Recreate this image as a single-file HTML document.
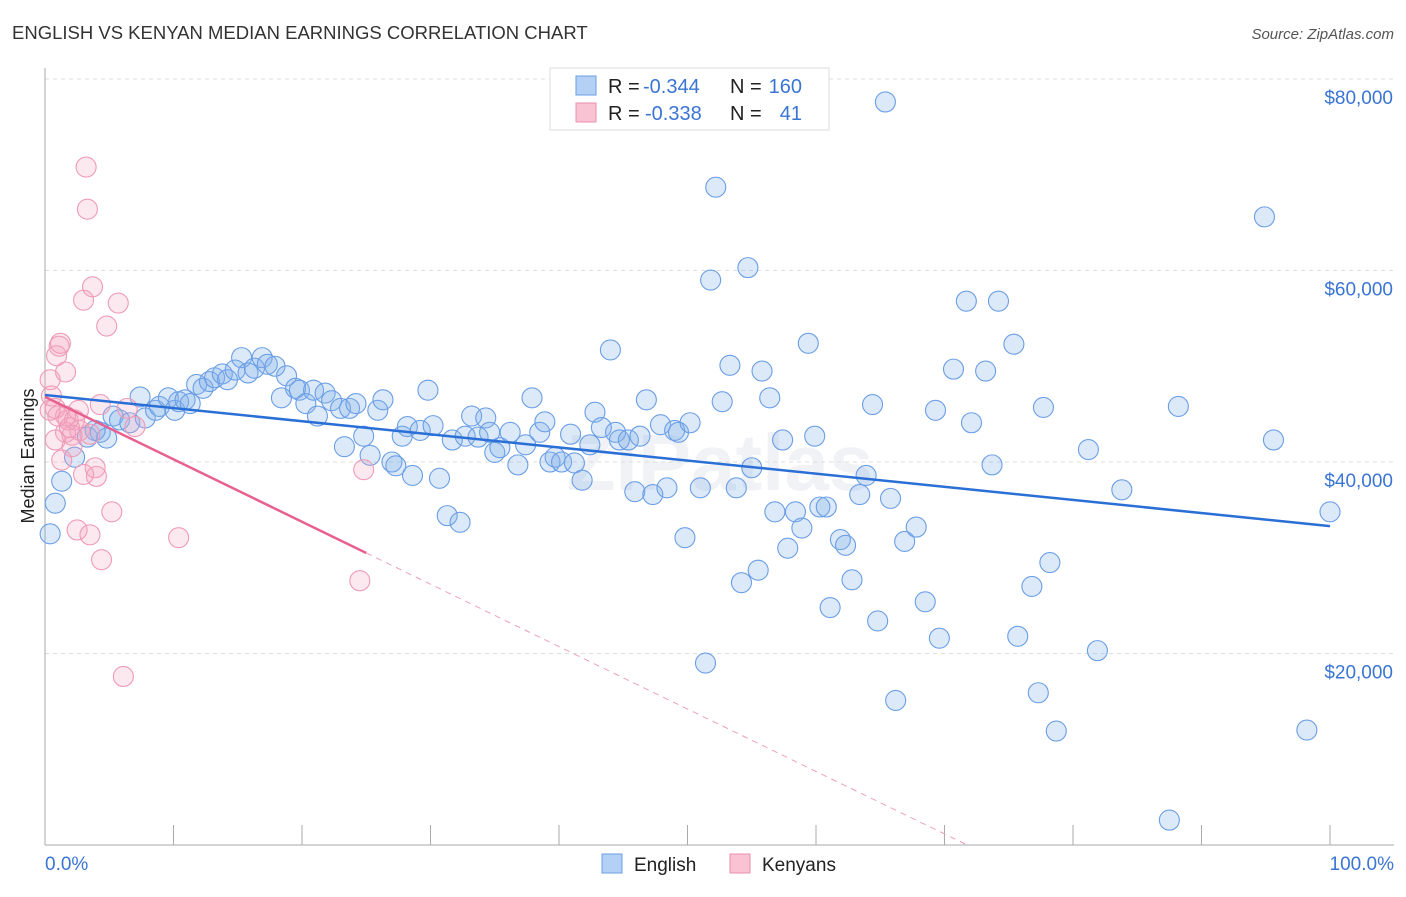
<!DOCTYPE html>
<html><head><meta charset="utf-8"><style>
body{margin:0;background:#fff;font-family:"Liberation Sans",sans-serif}
</style></head><body>
<svg width="1406" height="892" xmlns="http://www.w3.org/2000/svg" style="font-family:'Liberation Sans',sans-serif">
<text x="12" y="39" font-size="18.5" fill="#333">ENGLISH VS KENYAN MEDIAN EARNINGS CORRELATION CHART</text>
<text x="1394" y="39" font-size="15" fill="#555" font-style="italic" text-anchor="end">Source: ZipAtlas.com</text>
<text x="720" y="490" font-size="80" fill="#f0f2f5" text-anchor="middle" font-weight="bold">ZIPatlas</text>
<g id="grid"></g>
<g id="axes"></g>
<g id="pts"></g>
<g id="lines"></g>
<text transform="translate(34,456) rotate(-90)" font-size="18" fill="#222" text-anchor="middle">Median Earnings</text>
<g>
<rect x="550" y="68" width="279" height="62" fill="#fff" stroke="#ddd"/>
<rect x="576" y="76" width="20" height="19" fill="#b5d0f5" stroke="#6a9ee6"/>
<rect x="576" y="103" width="20" height="19" fill="#f9c3d3" stroke="#ec8fae"/>
<text x="608" y="93" font-size="20" fill="#222">R =</text>
<text x="643" y="93" font-size="20" fill="#3a75d4">-0.344</text>
<text x="730" y="93" font-size="20" fill="#222">N =</text>
<text x="802" y="93" font-size="20" fill="#3a75d4" text-anchor="end">160</text>
<text x="608" y="120" font-size="20" fill="#222">R =</text>
<text x="645" y="120" font-size="20" fill="#3a75d4">-0.338</text>
<text x="730" y="120" font-size="20" fill="#222">N =</text>
<text x="802" y="120" font-size="20" fill="#3a75d4" text-anchor="end">41</text>
</g>
<g>
<rect x="602" y="854" width="20" height="19" fill="#b5d0f5" stroke="#6a9ee6"/>
<text x="634" y="871" font-size="19" fill="#222">English</text>
<rect x="730" y="854" width="20" height="19" fill="#f9c3d3" stroke="#ec8fae"/>
<text x="762" y="871" font-size="19" fill="#222">Kenyans</text>
</g>
</svg>
<script>
const yTicks=[20000,40000,60000,80000];
const yTickLabels=["$20,000","$40,000","$60,000","$80,000"];
const xTickLabels=["0.0%","100.0%"];
const englishX=[0.4,0.8,1.3,2.3,3.3,4.3,4.8,3.9,5.3,5.8,6.6,7.4,7.8,8.6,8.9,9.6,10.1,10.4,10.9,11.3,11.8,12.3,12.8,13.2,13.8,14.2,14.8,15.3,15.8,16.3,16.9,17.3,17.9,18.4,18.8,19.5,19.8,20.3,20.9,21.2,21.8,22.3,23.0,23.3,23.7,24.2,24.8,25.3,25.9,26.3,27.0,27.3,27.8,28.2,28.6,29.2,29.8,30.2,30.7,31.3,31.7,32.3,32.7,33.2,33.7,34.3,34.6,35.0,35.4,36.2,36.8,37.4,37.9,38.5,38.9,39.3,39.7,40.2,40.9,41.2,41.8,42.4,42.8,43.3,44.0,44.4,44.7,45.4,45.9,46.3,46.8,47.3,47.9,48.4,49.0,49.3,49.8,50.2,51.0,51.4,51.8,52.2,52.7,53.3,53.8,54.2,54.7,55.0,55.5,55.8,56.4,56.8,57.4,57.8,58.4,58.9,59.4,59.9,60.3,60.8,61.1,61.9,62.3,62.8,63.4,63.9,64.4,64.8,65.4,65.8,66.2,66.9,67.8,68.5,69.3,69.6,70.7,71.7,72.1,73.2,73.7,74.2,75.4,75.7,76.8,77.3,77.7,78.2,78.7,81.2,81.9,83.8,87.5,88.2,94.9,95.6,98.2,100];
const englishY=[32.5,35.7,38.0,40.5,42.6,43.1,42.5,43.3,44.8,44.4,44.1,46.8,44.6,45.4,45.8,46.7,45.4,46.3,46.5,46.1,48.1,47.7,48.4,48.8,49.2,48.6,49.6,50.9,49.3,49.8,50.9,50.2,50.0,46.7,49.0,47.7,47.5,46.1,47.5,44.8,47.2,46.4,45.6,41.6,45.6,46.1,42.7,40.7,45.4,46.5,40.0,39.6,42.7,43.7,38.6,43.3,47.5,43.8,38.3,34.4,42.3,33.7,42.7,44.8,42.6,44.6,43.1,41.0,41.5,43.1,39.7,41.8,46.7,43.1,44.2,40.0,40.5,40.0,42.9,39.9,38.1,41.8,45.2,43.6,51.7,43.1,42.3,42.3,36.9,42.7,46.5,36.6,43.9,37.3,43.3,43.1,32.1,44.1,37.3,19.0,59.0,68.7,46.3,50.1,37.3,27.4,60.3,39.4,28.7,49.5,46.7,34.8,42.3,31.0,34.8,33.1,52.4,42.7,35.3,35.3,24.8,31.9,31.3,27.7,36.6,38.6,46.0,23.4,77.6,36.2,15.1,31.7,33.2,25.4,45.4,21.6,49.7,56.8,44.1,49.5,39.7,56.8,52.3,21.8,27.0,15.9,45.7,29.5,11.9,41.3,20.3,37.1,2.6,45.8,65.6,42.3,12.0,34.8];
const kenyanX=[0.4,0.5,0.8,0.9,1.1,1.2,1.6,1.6,1.8,2.1,2.3,2.6,2.7,3.0,3.2,3.3,3.5,3.7,3.9,4.0,4.3,4.4,4.8,5.2,5.7,6.1,6.4,7.0,10.4,24.5,24.8,2.5,3.5,2.1,1.6,3.0,1.3,0.8,1.0,0.4,1.9];
const kenyanY=[48.6,46.9,45.6,51.1,52.1,52.4,49.4,43.1,44.4,41.6,44.4,45.4,43.3,56.9,70.8,66.4,42.9,58.3,39.4,38.5,46.0,29.8,54.2,34.8,56.6,17.6,45.6,43.7,32.1,27.6,39.2,32.9,32.4,42.8,44.8,38.7,40.2,42.3,44.8,45.4,43.6];
const englishTrend=[47.0,33.3];
const kenyanTrend=[46.8,30.5];
const NS="http://www.w3.org/2000/svg";
const X=p=>45+p*12.85, Y=k=>845-k*9.575;
function mk(tag,attrs,parent){const e=document.createElementNS(NS,tag);for(const a in attrs)e.setAttribute(a,attrs[a]);document.getElementById(parent).appendChild(e);return e;}
yTicks.forEach((v,i)=>{
 const g=mk('line',{x1:45,x2:1394,y1:Y(v/1000),y2:Y(v/1000),stroke:'#ddd','stroke-dasharray':'4,4'},'grid');
 
 
 const t=mk('text',{x:1393,y:Y(v/1000)+25,'font-size':19,fill:'#3a75d4','text-anchor':'end'},'grid');
 t.textContent=yTickLabels[i];
 
 
});
const ax=mk('line',{x1:45,x2:45,y1:68,y2:845,stroke:'#aaa'},'axes');


const bx=mk('line',{x1:45,x2:1394,y1:845,y2:845,stroke:'#aaa'},'axes');


for(let i=1;i<=10;i++){const t=mk('line',{x1:X(i*10),x2:X(i*10),y1:825,y2:845,stroke:'#aaa'},'axes');
 
 }
[[0,45,'start'],[1,1394,'end']].forEach(([i,x,a])=>{const t=mk('text',{x:x,y:870,'font-size':19,fill:'#3a75d4','text-anchor':a},'axes');t.textContent=xTickLabels[i];
 
 });
englishX.forEach((p,i)=>{const c=mk('circle',{cx:X(p),cy:Y(englishY[i]),r:10,fill:'rgba(130,175,235,0.28)',stroke:'#6a9ee6','stroke-width':1.1},'pts');
 
 });
kenyanX.forEach((p,i)=>{const c=mk('circle',{cx:X(p),cy:Y(kenyanY[i]),r:10,fill:'rgba(245,165,190,0.25)',stroke:'#ef9ab6','stroke-width':1.1},'pts');
 
 });
const el=mk('line',{x1:X(0),y1:Y(englishTrend[0]),x2:X(100),y2:Y(englishTrend[1]),stroke:'#2a6fd6','stroke-width':2.5},'lines');


const slope=(kenyanTrend[1]-kenyanTrend[0])/25, zero=-kenyanTrend[0]/slope;
const kl=mk('line',{x1:X(0),y1:Y(kenyanTrend[0]),x2:X(25),y2:Y(kenyanTrend[1]),stroke:'#e8608f','stroke-width':2.5},'lines');


const kd=mk('line',{x1:X(25),y1:Y(kenyanTrend[1]),x2:X(zero),y2:Y(0),stroke:'#eea0b8','stroke-width':1,'stroke-dasharray':'6,5'},'lines');


</script>
</body></html>
